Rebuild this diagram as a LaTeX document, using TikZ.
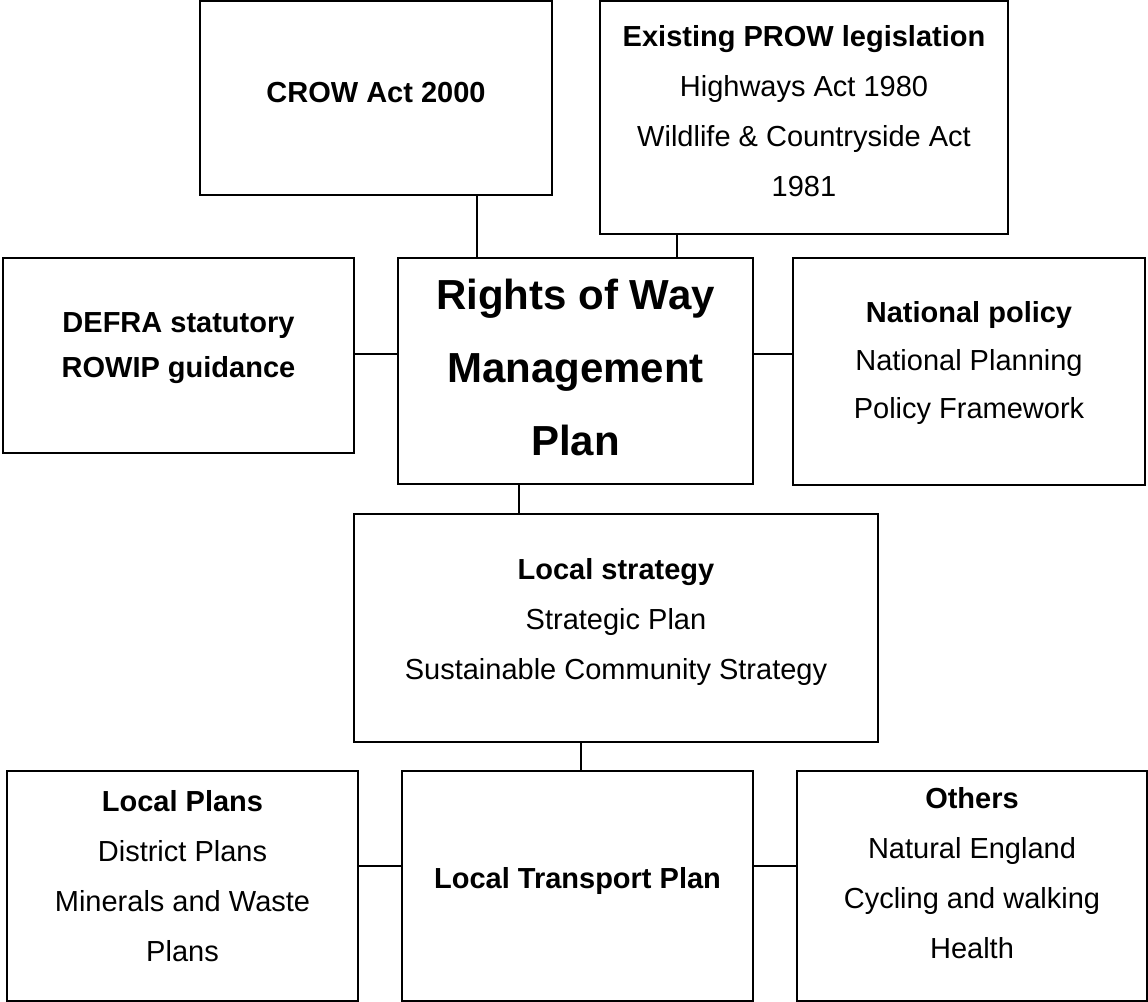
\documentclass[tikz,border=0pt]{standalone}
\usepackage{fontspec}
\setmainfont{Liberation Sans}
\begin{document}
\begin{tikzpicture}[x=0.5pt, y=-0.5pt,
    box/.style={draw, line width=1pt, inner sep=0pt, align=center,
      text depth=9pt, font=\fontsize{14.5}{25}\selectfont},
    link/.style={line width=1pt}]
  \useasboundingbox (0,0) rectangle (1148,1002);

  %% ---------- top row: legislation ----------
  \node[box, minimum width=176pt, minimum height=97pt, text depth=5.5pt]
    (crow) at (376,98) {\textbf{CROW Act 2000}};
  \node[box, minimum width=204pt, minimum height=116.5pt, text depth=7pt]
    (prow) at (804,117.5) {\textbf{Existing PROW legislation}\\
      Highways Act 1980\\Wildlife \& Countryside Act\\1981};

  %% ---------- middle row: the plan and its neighbours ----------
  \node[box, minimum width=175.5pt, minimum height=97.5pt, text depth=10pt,
      font=\fontsize{14.5}{22.5}\selectfont\bfseries]
    (defra) at (178.5,355.5) {DEFRA statutory\\ROWIP guidance};
  \node[box, minimum width=177.5pt, minimum height=113pt, text depth=3.5pt,
      font=\fontsize{21}{36.5}\selectfont\bfseries]
    (rowmp) at (575.5,371) {Rights of Way\\Management\\Plan};
  \node[box, minimum width=176pt, minimum height=113.5pt, text depth=11.5pt,
      font=\fontsize{14.5}{24}\selectfont]
    (natpol) at (969,371.5) {\textbf{National policy}\\
      National Planning\\Policy Framework};

  %% ---------- local strategy ----------
  \node[box, minimum width=262pt, minimum height=114pt]
    (locstrat) at (616,628) {\textbf{Local strategy}\\
      Strategic Plan\\Sustainable Community Strategy};

  %% ---------- bottom row: local plans ----------
  \node[box, minimum width=175.5pt, minimum height=115pt, text depth=10pt]
    (locplans) at (182.5,886) {\textbf{Local Plans}\\District Plans\\
      Minerals and Waste\\Plans};
  \node[box, minimum width=175.5pt, minimum height=115pt, text depth=8pt]
    (ltp) at (577.5,886) {\textbf{Local Transport Plan}};
  \node[box, minimum width=175pt, minimum height=115pt, text depth=13pt]
    (others) at (972,886) {\textbf{Others}\\Natural England\\
      Cycling and walking\\Health};

  % where the ties meet the boxes
  \coordinate (xa) at (477,0);
  \coordinate (xb) at (677,0);
  \coordinate (xc) at (518.5,0);
  \coordinate (xd) at (581,0);
  \coordinate (ya) at (0,354);
  \coordinate (yb) at (0,866);

  \draw[link] (crow.south -| xa) -- (rowmp.north -| xa);
  \draw[link] (prow.south -| xb) -- (rowmp.north -| xb);
  \draw[link] (defra.east |- ya) -- (rowmp.west |- ya);
  \draw[link] (rowmp.east |- ya) -- (natpol.west |- ya);
  \draw[link] (rowmp.south -| xc) -- (locstrat.north -| xc);
  \draw[link] (locstrat.south -| xd) -- (ltp.north -| xd);
  \draw[link] (locplans.east |- yb) -- (ltp.west |- yb);
  \draw[link] (ltp.east |- yb) -- (others.west |- yb);
\end{tikzpicture}
\end{document}
